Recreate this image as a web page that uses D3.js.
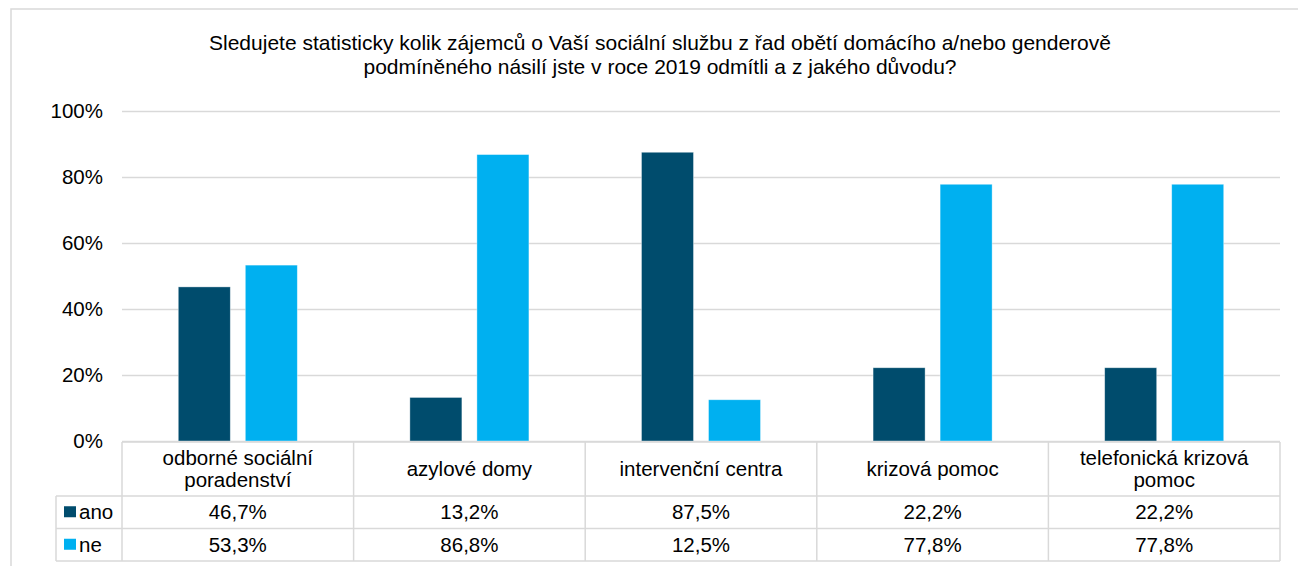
<!DOCTYPE html>
<html>
<head>
<meta charset="utf-8">
<script src="https://cdn.jsdelivr.net/npm/d3@7"></script>
<style>
  body { margin: 0; background: #fff; }
  text { font-family: "Liberation Sans", Arial, sans-serif; fill: #000; }
</style>
</head>
<body>
<div id="chart"></div>
<script>
// chart data
var titleLines = ["Sledujete statisticky kolik zájemců o Vaší sociální službu z řad obětí domácího a/nebo genderově",
                  "podmíněného násilí jste v roce 2019 odmítli a z jakého důvodu?"];
var categories = [["odborné sociální", "poradenství"], ["azylové domy"], ["intervenční centra"],
                  ["krizová pomoc"], ["telefonická krizová", "pomoc"]];
var seriesNames = ["ano", "ne"];
var ano = [46.7, 13.2, 87.5, 22.2, 22.2];
var ne = [53.3, 86.8, 12.5, 77.8, 77.8];
var yTicks = [0, 20, 40, 60, 80, 100];

var colors = {ano: "#004c6d", ne: "#00b0f0"};
var grid = "#d9d9d9";
var fs = "20.5px";

var W = 1298, H = 566;
var margin = {left: 122, right: 18, top: 111, bottom: 125};
var plotW = W - margin.left - margin.right,
    plotH = H - margin.top - margin.bottom;

var svg = d3.select("#chart")
  .append("svg")
    .attr("width", W)
    .attr("height", H);

// outer chart frame (runs off the right and bottom edge)
svg.append("rect")
  .attr("x", 11).attr("y", 9)
  .attr("width", 1298).attr("height", 600)
  .attr("fill", "none").attr("stroke", grid).attr("stroke-width", 1.5);

// title
svg.append("g").selectAll("text")
  .data(titleLines)
  .enter().append("text")
    .attr("x", 660)
    .attr("y", function(d, i) { return 50 + i * 24; })
    .attr("text-anchor", "middle")
    .style("font-size", "21px")
    .text(function(d) { return d; });

var g = svg.append("g")
  .attr("transform", "translate(" + margin.left + "," + margin.top + ")");

var x0 = d3.scaleBand()
  .domain(d3.range(categories.length))
  .range([0, plotW])
  .padding(0);

var bw = x0.bandwidth();
var x1 = d3.scaleBand()
  .domain(seriesNames)
  .range([bw * 0.243, bw * 0.757])
  .paddingInner(0.224);

var y = d3.scaleLinear()
  .domain([0, 100])
  .range([plotH, 0]);

// gridlines + tick labels
var yAxis = g.append("g")
  .call(d3.axisLeft(y).tickValues(yTicks).tickSize(-plotW).tickPadding(19)
        .tickFormat(function(d) { return d + "%"; }));
yAxis.select(".domain").remove();
yAxis.selectAll("line").attr("stroke", grid).attr("stroke-width", 1.5);
yAxis.selectAll("text")
  .attr("font-family", null).attr("fill", "#000")
  .style("font-size", fs);

// bars
var rows = d3.range(categories.length).map(function(i) {
  return {i: i, ano: ano[i], ne: ne[i]};
});

g.append("g").selectAll("g")
  .data(rows)
  .enter().append("g")
    .attr("transform", function(d) { return "translate(" + x0(d.i) + ",0)"; })
  .selectAll("rect")
  .data(function(d) { return seriesNames.map(function(s) { return {key: s, value: d[s]}; }); })
  .enter().append("rect")
    .attr("x", function(d) { return x1(d.key); })
    .attr("y", function(d) { return y(d.value); })
    .attr("width", x1.bandwidth())
    .attr("height", function(d) { return plotH - y(d.value); })
    .attr("fill", function(d) { return colors[d.key]; })
    .attr("stroke", "rgba(255,255,255,0.5)")
    .attr("stroke-width", 0.75);

// data table
var tTop = plotH + 1, catH = 54, rowH = 32.5, legLeft = 56 - margin.left;
var tbl = g.append("g").attr("class", "table");
var line = function(x1_, y1_, x2_, y2_) {
  tbl.append("line")
    .attr("x1", x1_).attr("y1", y1_).attr("x2", x2_).attr("y2", y2_)
    .attr("stroke", grid).attr("stroke-width", 1.5);
};
var tBottom = tTop + catH + 2 * rowH;
line(0, tTop, plotW, tTop);
line(legLeft, tTop + catH, plotW, tTop + catH);
line(legLeft, tTop + catH + rowH, plotW, tTop + catH + rowH);
line(legLeft, tBottom, plotW, tBottom);
line(legLeft, tTop + catH, legLeft, tBottom);
d3.range(categories.length + 1).forEach(function(i) {
  var xx = i < categories.length ? x0(i) : plotW;
  line(xx, tTop, xx, tBottom);
});

// category labels
tbl.append("g").selectAll("text")
  .data(categories)
  .enter().append("text")
    .attr("text-anchor", "middle")
    .attr("x", function(d, i) { return x0(i) + bw / 2; })
    .attr("y", function(d) { return tTop + catH / 2 + 7 - (d.length - 1) * 11; })
    .style("font-size", fs)
    .each(function(d) {
      var t = d3.select(this);
      d.forEach(function(s, k) {
        t.append("tspan").attr("x", t.attr("x")).attr("dy", k ? 22 : 0).text(s);
      });
    });

// series rows
var fmt = function(v) { return v.toFixed(1).replace(".", ",") + "%"; };
var vals = {ano: ano, ne: ne};
seriesNames.forEach(function(s, r) {
  var cy = tTop + catH + rowH * r + rowH / 2;
  tbl.append("rect")
    .attr("x", legLeft + 8).attr("y", cy - 6)
    .attr("width", 12).attr("height", 11)
    .attr("fill", colors[s]);
  tbl.append("text")
    .attr("x", legLeft + 23).attr("y", cy + 7)
    .style("font-size", fs)
    .text(s);
  tbl.append("g").selectAll("text")
    .data(vals[s])
    .enter().append("text")
      .attr("text-anchor", "middle")
      .attr("x", function(d, i) { return x0(i) + bw / 2; })
      .attr("y", cy + 7)
      .style("font-size", fs)
      .text(fmt);
});
</script>
</body>
</html>
